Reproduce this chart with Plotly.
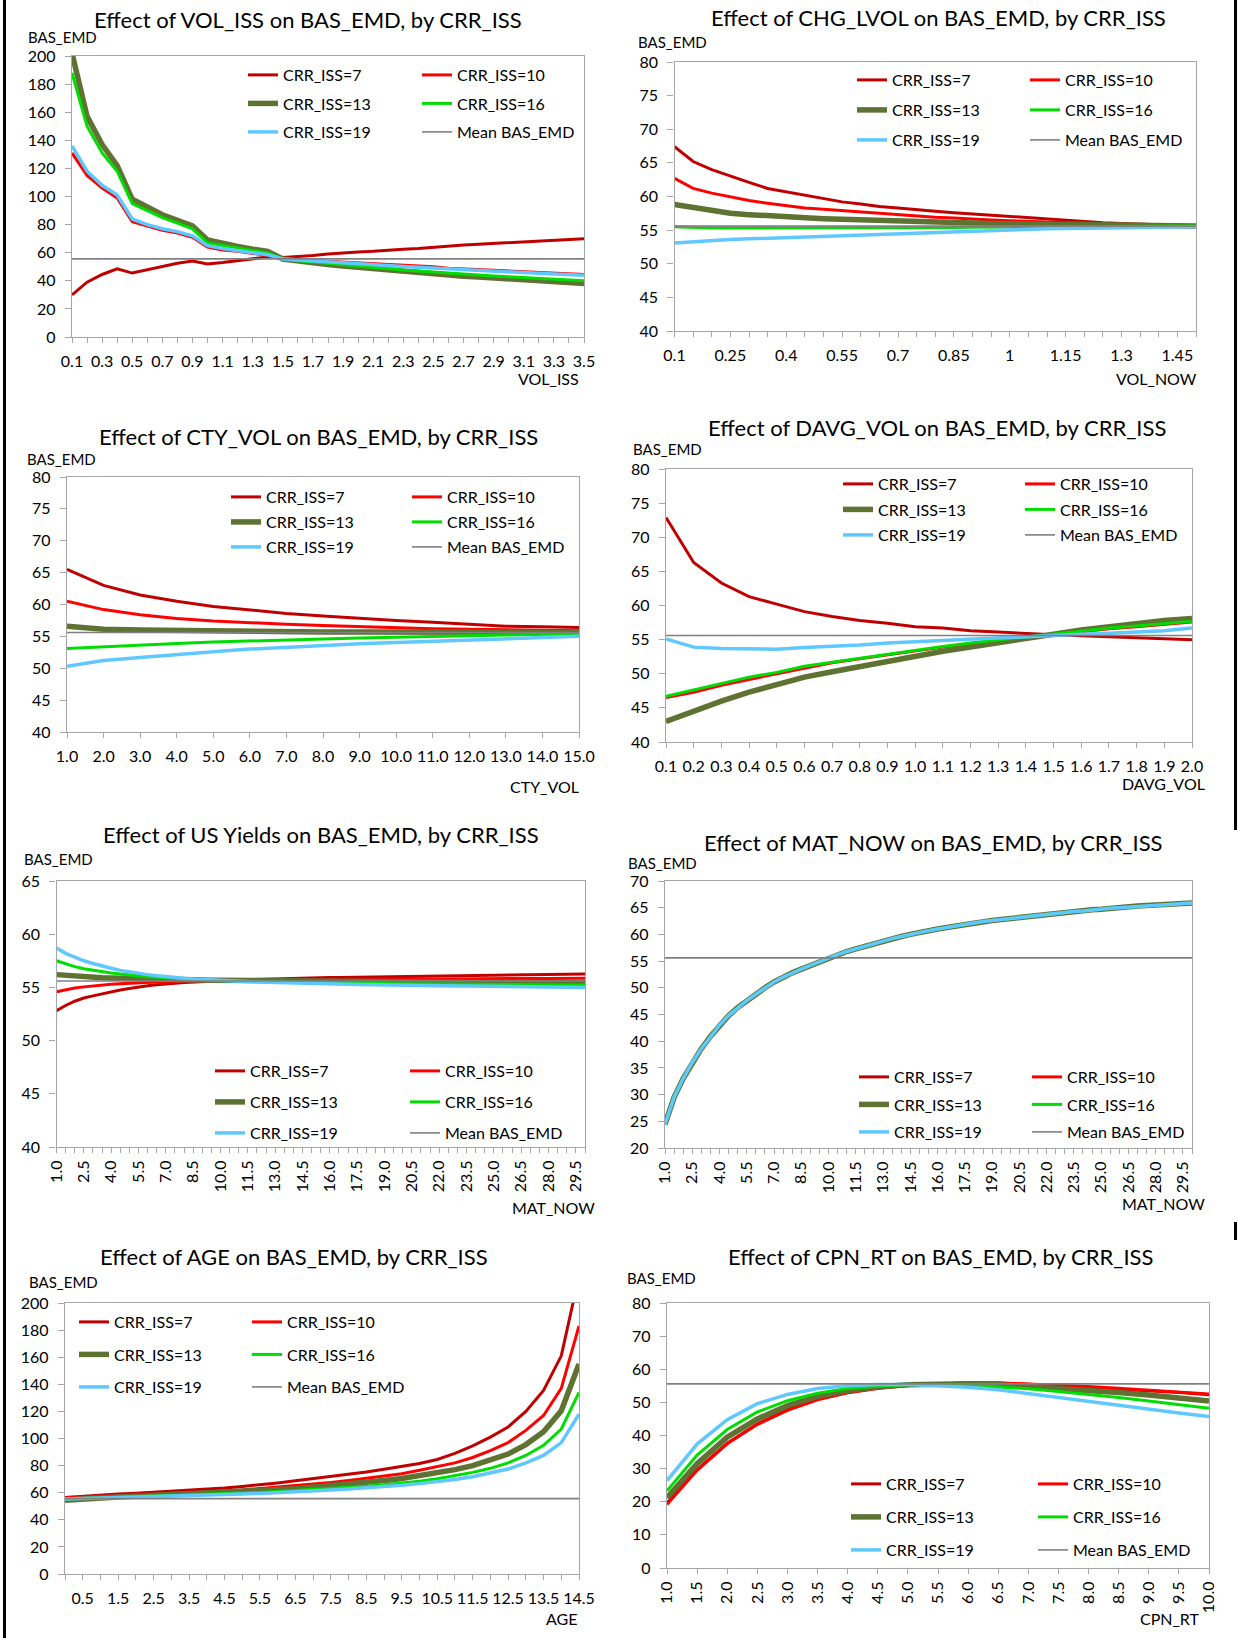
import plotly.graph_objects as go

W, H = 1238, 1638
FONT = "Lato"
AX = "#A6A6A6"
MEAN_BAS_EMD = 55.6

SERIES_NAMES = ["CRR_ISS=7", "CRR_ISS=10", "CRR_ISS=13", "CRR_ISS=16", "CRR_ISS=19"]
SERIES_COLORS = ["#C00000", "#FF0000", "#5E7232", "#00DD00", "#5FC8FF"]
SERIES_WIDTHS = [3, 3, 5.5, 3, 3.5]

# ---------------- Panel 1: VOL_ISS ----------------
VOL_ISS = [0.1, 0.2, 0.3, 0.4, 0.5, 0.6, 0.7, 0.8, 0.9, 1.0, 1.1, 1.2, 1.3, 1.4, 1.5, 1.6, 1.7, 1.8,
           1.9, 2.0, 2.1, 2.2, 2.3, 2.4, 2.5, 2.6, 2.7, 2.8, 2.9, 3.0, 3.1, 3.2, 3.3, 3.4, 3.5]
p1_crr7 = [30, 39, 44.5, 48.5, 45.5, 48, 50.5, 52.5, 54, 52, 53, 54.5, 56, 57, 56.5, 57, 58, 59, 60, 60.5,
           61, 62, 62.5, 63, 64, 65, 65.5, 66, 66.5, 67, 67.5, 68, 68.5, 69, 70]
p1_crr10 = [131, 115, 106, 99, 82, 79, 76, 74, 71, 64, 62, 61, 59.5, 58, 55.5, 55, 54.5, 54, 53, 52.5,
            52, 51.5, 51, 50.5, 50, 49, 48.5, 48, 47.5, 47, 46.5, 46, 45.5, 45, 44.5]
p1_crr13 = [202, 157, 137, 122, 98, 92, 87, 83, 79, 69, 66.5, 64.5, 62.5, 61, 55.5, 54, 53, 51.5, 50.5, 49.5,
            48.5, 47.5, 46.8, 46, 45, 44, 43.3, 42.7, 42, 41.3, 40.6, 40, 39.3, 38.6, 38]
p1_crr16 = [188, 150, 131, 118, 95, 90, 85, 81, 77, 67, 65, 63, 61.5, 60, 55.5, 54.3, 53.3, 52.2, 51.2, 50.3,
            49.4, 48.5, 47.7, 47, 46.2, 45.4, 44.7, 44, 43.4, 42.8, 42.2, 41.6, 41, 40.5, 40]
p1_crr19 = [136, 118, 108, 101, 84, 80, 77, 75, 72, 65, 63, 61.5, 60, 58.5, 55.5, 54.8, 54, 53.3, 52.5, 52,
            51.5, 50.8, 50.2, 49.6, 49, 48.4, 47.8, 47.3, 46.8, 46.3, 45.8, 45.3, 44.9, 44.5, 44]
p1_tickvals = [0.1, 0.3, 0.5, 0.7, 0.9, 1.1, 1.3, 1.5, 1.7, 1.9, 2.1, 2.3, 2.5, 2.7, 2.9, 3.1, 3.3, 3.5]
p1_ticktext = ["0.1", "0.3", "0.5", "0.7", "0.9", "1.1", "1.3", "1.5", "1.7", "1.9", "2.1", "2.3", "2.5",
               "2.7", "2.9", "3.1", "3.3", "3.5"]

# ---------------- Panel 2: CHG_LVOL (VOL_NOW) ----------------
VOL_NOW = [0.1, 0.15, 0.2, 0.25, 0.3, 0.35, 0.4, 0.45, 0.5, 0.55, 0.6, 0.65, 0.7, 0.75, 0.8, 0.85, 0.9,
           0.95, 1.0, 1.05, 1.1, 1.15, 1.2, 1.25, 1.3, 1.35, 1.4, 1.45, 1.5]
p2_crr7 = [67.4, 65.2, 64.0, 63.0, 62.1, 61.2, 60.7, 60.1, 59.6, 59.2, 58.9, 58.5, 58.3, 58.0, 57.8, 57.6,
           57.4, 57.2, 57.0, 56.8, 56.6, 56.5, 56.3, 56.1, 56.0, 55.9, 55.8, 55.7, 55.6]
p2_crr10 = [62.7, 61.2, 60.5, 59.9, 59.4, 59.0, 58.6, 58.3, 58.1, 57.9, 57.6, 57.4, 57.2, 57.0, 56.9, 56.8,
            56.6, 56.5, 56.4, 56.3, 56.2, 56.1, 56.0, 55.9, 55.8, 55.8, 55.7, 55.7, 55.6]
p2_crr13 = [58.8, 58.3, 57.9, 57.5, 57.3, 57.1, 56.9, 56.8, 56.7, 56.6, 56.5, 56.4, 56.3, 56.25, 56.2, 56.1,
            56.05, 56.0, 55.95, 55.9, 55.85, 55.8, 55.8, 55.75, 55.7, 55.7, 55.65, 55.65, 55.6]
p2_crr16 = [55.5, 55.35, 55.3, 55.3, 55.3, 55.3, 55.3, 55.3, 55.3, 55.3, 55.3, 55.32, 55.34, 55.36, 55.38,
            55.4, 55.42, 55.44, 55.46, 55.48, 55.5, 55.5, 55.52, 55.54, 55.55, 55.56, 55.57, 55.58, 55.6]
p2_crr19 = [53.1, 53.3, 53.4, 53.6, 53.7, 53.8, 53.9, 54.0, 54.1, 54.2, 54.3, 54.4, 54.5, 54.6, 54.7, 54.8,
            54.9, 55.0, 55.05, 55.1, 55.2, 55.25, 55.3, 55.35, 55.4, 55.45, 55.5, 55.5, 55.5]
p2_tickvals = [0.1, 0.25, 0.4, 0.55, 0.7, 0.85, 1.0, 1.15, 1.3, 1.45]
p2_ticktext = ["0.1", "0.25", "0.4", "0.55", "0.7", "0.85", "1", "1.15", "1.3", "1.45"]

# ---------------- Panel 3: CTY_VOL ----------------
CTY_VOL = [1, 2, 3, 4, 5, 6, 7, 8, 9, 10, 11, 12, 13, 14, 15]
p3_crr7 = [65.5, 63, 61.5, 60.5, 59.7, 59.1, 58.6, 58.2, 57.8, 57.5, 57.2, 56.9, 56.6, 56.5, 56.4]
p3_crr10 = [60.5, 59.2, 58.4, 57.8, 57.4, 57.1, 56.9, 56.7, 56.5, 56.4, 56.2, 56.1, 56.0, 55.95, 55.9]
p3_crr13 = [56.6, 56.1, 56.0, 55.9, 55.8, 55.75, 55.7, 55.7, 55.7, 55.65, 55.65, 55.6, 55.6, 55.6, 55.6]
p3_crr16 = [53.1, 53.4, 53.7, 53.9, 54.1, 54.3, 54.45, 54.6, 54.75, 54.9, 55.0, 55.1, 55.2, 55.3, 55.4]
p3_crr19 = [50.3, 51.2, 51.7, 52.2, 52.6, 53.0, 53.3, 53.6, 53.85, 54.05, 54.25, 54.45, 54.65, 54.8, 55.0]
p3_tickvals = CTY_VOL
p3_ticktext = ["1.0", "2.0", "3.0", "4.0", "5.0", "6.0", "7.0", "8.0", "9.0", "10.0", "11.0", "12.0",
               "13.0", "14.0", "15.0"]

# ---------------- Panel 4: DAVG_VOL ----------------
DAVG_VOL = [0.1, 0.2, 0.3, 0.4, 0.5, 0.6, 0.7, 0.8, 0.9, 1.0, 1.1, 1.2, 1.3, 1.4, 1.5, 1.6, 1.7, 1.8, 1.9, 2.0]
p4_crr7 = [72.9, 66.3, 63.3, 61.3, 60.2, 59.1, 58.4, 57.8, 57.4, 56.9, 56.7, 56.3, 56.1, 55.85, 55.7, 55.55,
           55.4, 55.2, 55.1, 55.0]
p4_crr10 = [46.5, 47.3, 48.3, 49.2, 50.0, 50.8, 51.6, 52.2, 52.8, 53.3, 53.9, 54.4, 54.9, 55.3, 55.7, 56.2,
            56.6, 56.9, 57.2, 57.6]
p4_crr13 = [43.0, 44.6, 46.0, 47.3, 48.4, 49.5, 50.3, 51.1, 51.8, 52.5, 53.3, 53.9, 54.6, 55.2, 55.8, 56.4,
            56.9, 57.4, 57.8, 58.1]
p4_crr16 = [46.7, 47.6, 48.5, 49.5, 50.2, 51.1, 51.7, 52.3, 52.9, 53.4, 54.0, 54.5, 55.0, 55.4, 55.8, 56.3,
            56.7, 57.0, 57.3, 57.7]
p4_crr19 = [55.1, 53.9, 53.7, 53.6, 53.6, 53.85, 54.0, 54.2, 54.5, 54.7, 54.9, 55.1, 55.3, 55.45, 55.6, 55.8,
            55.95, 56.1, 56.3, 56.7]
p4_tickvals = DAVG_VOL
p4_ticktext = ["0.1", "0.2", "0.3", "0.4", "0.5", "0.6", "0.7", "0.8", "0.9", "1.0", "1.1", "1.2", "1.3",
               "1.4", "1.5", "1.6", "1.7", "1.8", "1.9", "2.0"]

# ---------------- Panels 5 & 6: MAT_NOW ----------------
MAT_NOW = [1.0, 1.5, 2.0, 2.5, 3.0, 3.5, 4.0, 4.5, 5.0, 5.5, 6.0, 6.5, 7.0, 7.5, 8.0, 8.5, 9.0, 9.5, 10.0,
           10.5, 11.0, 11.5, 12.0, 12.5, 13.0, 13.5, 14.0, 14.5, 15.0, 15.5, 16.0, 16.5, 17.0, 17.5, 18.0,
           18.5, 19.0, 19.5, 20.0, 20.5, 21.0, 21.5, 22.0, 22.5, 23.0, 23.5, 24.0, 24.5, 25.0, 25.5, 26.0,
           26.5, 27.0, 27.5, 28.0, 28.5, 29.0, 29.5, 30.0]
p5_crr7 = [52.8, 53.3, 53.7, 54.0, 54.2, 54.4, 54.6, 54.75, 54.9, 55.05,
           55.15, 55.25, 55.35, 55.4, 55.45, 55.5, 55.55, 55.6, 55.65, 55.68,
           55.7, 55.72, 55.75, 55.77, 55.8, 55.82, 55.84, 55.86, 55.88, 55.9,
           55.92, 55.94, 55.95, 55.97, 55.98, 56.0, 56.01, 56.03, 56.04, 56.05,
           56.07, 56.08, 56.09, 56.1, 56.12, 56.13, 56.14, 56.15, 56.16, 56.17,
           56.18, 56.19, 56.2, 56.21, 56.22, 56.23, 56.24, 56.25, 56.26]
p5_crr10 = [54.6, 54.8, 54.95, 55.05, 55.15, 55.22, 55.3, 55.35, 55.4, 55.44,
            55.48, 55.5, 55.52, 55.54, 55.56, 55.58, 55.6, 55.61, 55.62, 55.63,
            55.64, 55.65, 55.66, 55.67, 55.68, 55.69, 55.7, 55.71, 55.72, 55.72,
            55.73, 55.74, 55.74, 55.75, 55.76, 55.76, 55.77, 55.77, 55.78, 55.78,
            55.79, 55.79, 55.8, 55.8, 55.81, 55.81, 55.82, 55.82, 55.82, 55.83,
            55.83, 55.83, 55.84, 55.84, 55.84, 55.85, 55.85, 55.85, 55.86]
p5_crr13 = [56.2, 56.12, 56.05, 56.0, 55.95, 55.91, 55.88, 55.85, 55.82, 55.8,
            55.78, 55.76, 55.74, 55.72, 55.71, 55.7, 55.69, 55.68, 55.67, 55.66,
            55.65, 55.64, 55.63, 55.62, 55.61, 55.6, 55.6, 55.59, 55.58, 55.58,
            55.57, 55.56, 55.56, 55.55, 55.55, 55.54, 55.53, 55.53, 55.52, 55.52,
            55.51, 55.51, 55.5, 55.5, 55.49, 55.49, 55.48, 55.48, 55.48, 55.47,
            55.47, 55.46, 55.46, 55.46, 55.45, 55.45, 55.45, 55.44, 55.44]
p5_crr16 = [57.5, 57.2, 56.95, 56.75, 56.6, 56.45, 56.35, 56.25, 56.15, 56.07,
            56.0, 55.95, 55.9, 55.85, 55.8, 55.76, 55.72, 55.69, 55.66, 55.63,
            55.6, 55.58, 55.56, 55.54, 55.52, 55.5, 55.48, 55.47, 55.45, 55.44,
            55.42, 55.41, 55.4, 55.39, 55.38, 55.37, 55.36, 55.35, 55.34, 55.33,
            55.32, 55.32, 55.31, 55.3, 55.3, 55.29, 55.28, 55.28, 55.27, 55.27,
            55.26, 55.26, 55.25, 55.25, 55.24, 55.24, 55.23, 55.23, 55.22]
p5_crr19 = [58.7, 58.2, 57.85, 57.5, 57.25, 57.0, 56.8, 56.6, 56.45, 56.3,
            56.2, 56.1, 56.0, 55.92, 55.85, 55.79, 55.74, 55.69, 55.65, 55.61,
            55.57, 55.54, 55.51, 55.48, 55.45, 55.43, 55.41, 55.39, 55.37, 55.35,
            55.33, 55.31, 55.29, 55.28, 55.26, 55.25, 55.23, 55.22, 55.21, 55.2,
            55.18, 55.17, 55.16, 55.15, 55.14, 55.13, 55.12, 55.11, 55.1, 55.09,
            55.08, 55.07, 55.06, 55.05, 55.04, 55.03, 55.02, 55.01, 55.0]
# Panel 6: all five CRR_ISS curves coincide in the picture
p6_curve = [24.4, 29.5, 33.0, 36.0, 38.6, 40.9, 43.0, 44.8, 46.3, 47.6,
            48.8, 50.0, 51.1, 52.0, 52.8, 53.5, 54.2, 54.9, 55.6, 56.2,
            56.8, 57.3, 57.8, 58.3, 58.8, 59.2, 59.6, 60.0, 60.4, 60.7,
            61.0, 61.3, 61.6, 61.9, 62.2, 62.4, 62.6, 62.8, 63.0, 63.2,
            63.4, 63.6, 63.8, 64.0, 64.1, 64.3, 64.4, 64.6, 64.7, 64.9,
            65.0, 65.1, 65.3, 65.4, 65.5, 65.6, 65.7, 65.8, 65.9]
mat_tickvals = [1.0, 2.5, 4.0, 5.5, 7.0, 8.5, 10.0, 11.5, 13.0, 14.5, 16.0, 17.5, 19.0, 20.5, 22.0, 23.5,
                25.0, 26.5, 28.0, 29.5]
mat_ticktext = ["1.0", "2.5", "4.0", "5.5", "7.0", "8.5", "10.0", "11.5", "13.0", "14.5", "16.0", "17.5",
                "19.0", "20.5", "22.0", "23.5", "25.0", "26.5", "28.0", "29.5"]

# ---------------- Panel 7: AGE ----------------
AGE = [0.0, 0.5, 1.0, 1.5, 2.0, 2.5, 3.0, 3.5, 4.0, 4.5, 5.0, 5.5, 6.0, 6.5, 7.0, 7.5, 8.0, 8.5, 9.0, 9.5,
       10.0, 10.5, 11.0, 11.5, 12.0, 12.5, 13.0, 13.5, 14.0, 14.5]
p7_crr7 = [56.5, 57.5, 58.2, 59, 59.6, 60.3, 61, 61.7, 62.5, 63.5,
           64.6, 65.8, 67.2, 68.8, 70.3, 71.8, 73.5, 75.3, 77.3, 79.5,
           81.5, 84.5, 89, 94.5, 101, 108.5, 120, 135.5, 161, 220]
p7_crr10 = [56.3, 56.8, 57.3, 57.8, 58.3, 58.8, 59.3, 60, 60.5, 61.2,
            62, 63, 64, 65, 66.3, 67.5, 69, 70.5, 72, 74,
            76.5, 79, 82, 86, 91, 97, 106, 117, 137, 183]
p7_crr13 = [54.5, 55.5, 56.2, 56.8, 57.3, 57.8, 58.3, 58.8, 59.4, 60,
            60.8, 61.5, 62.3, 63, 64, 65, 66.3, 67.5, 69, 70.5,
            72.5, 74.5, 77, 80, 84, 88.5, 95.5, 105, 120.5, 155]
p7_crr16 = [55.3, 55.7, 56.1, 56.5, 56.9, 57.3, 57.7, 58.1, 58.6, 59.1,
            59.6, 60.2, 60.8, 61.5, 62.2, 63, 63.8, 64.8, 65.8, 67,
            68.5, 70.3, 72.5, 75, 78, 82, 87.5, 95, 107, 134]
p7_crr19 = [55.4, 55.7, 56, 56.3, 56.6, 57, 57.3, 57.7, 58.1, 58.5,
            59, 59.5, 60, 60.6, 61.3, 62, 62.8, 63.6, 64.5, 65.5,
            66.7, 68, 69.8, 71.8, 74.5, 77.5, 82, 87.5, 97, 118]
p7_tickvals = [0.5, 1.5, 2.5, 3.5, 4.5, 5.5, 6.5, 7.5, 8.5, 9.5, 10.5, 11.5, 12.5, 13.5, 14.5]
p7_ticktext = ["0.5", "1.5", "2.5", "3.5", "4.5", "5.5", "6.5", "7.5", "8.5", "9.5", "10.5", "11.5",
               "12.5", "13.5", "14.5"]

# ---------------- Panel 8: CPN_RT ----------------
CPN_RT = [1.0, 1.5, 2.0, 2.5, 3.0, 3.5, 4.0, 4.5, 5.0, 5.5, 6.0, 6.5, 7.0, 7.5, 8.0, 8.5, 9.0, 9.5, 10.0]
p8_crr7 = [19.6, 29.7, 37.7, 43.5, 47.8, 51.0, 53.0, 54.3, 55.1, 55.6, 55.8, 55.8, 55.5, 55.0, 54.7, 54.1,
           53.5, 53.0, 52.3]
p8_crr10 = [19.2, 29.5, 37.5, 43.3, 47.6, 50.8, 52.9, 54.2, 55.1, 55.6, 55.9, 55.9, 55.6, 55.2, 54.8, 54.3,
            53.7, 53.1, 52.5]
p8_crr13 = [21.2, 31.5, 39.5, 45.0, 49.0, 51.8, 53.6, 54.7, 55.3, 55.6, 55.6, 55.3, 54.8, 54.3, 53.7, 53.0,
            52.2, 51.3, 50.4]
p8_crr16 = [23.3, 34.1, 41.8, 47.1, 50.5, 52.8, 54.2, 54.9, 55.3, 55.4, 55.2, 54.7, 54.1, 53.3, 52.5, 51.5,
            50.4, 49.3, 48.2]
p8_crr19 = [26.4, 37.4, 44.8, 49.6, 52.4, 54.2, 55.0, 55.4, 55.4, 55.1, 54.6, 53.8, 52.6, 51.5, 50.4, 49.2,
            48.0, 46.8, 45.7]
p8_tickvals = CPN_RT
p8_ticktext = ["1.0", "1.5", "2.0", "2.5", "3.0", "3.5", "4.0", "4.5", "5.0", "5.5", "6.0", "6.5", "7.0",
               "7.5", "8.0", "8.5", "9.0", "9.5", "10.0"]

TITLES = ["Effect of VOL_ISS on BAS_EMD, by CRR_ISS", "Effect of CHG_LVOL on BAS_EMD, by CRR_ISS",
          "Effect of CTY_VOL on BAS_EMD, by CRR_ISS", "Effect of DAVG_VOL on BAS_EMD, by CRR_ISS",
          "Effect of US Yields on BAS_EMD, by CRR_ISS", "Effect of MAT_NOW on BAS_EMD, by CRR_ISS",
          "Effect of AGE on BAS_EMD, by CRR_ISS", "Effect of CPN_RT on BAS_EMD, by CRR_ISS"]
XLABELS = ["VOL_ISS", "VOL_NOW", "CTY_VOL", "DAVG_VOL", "MAT_NOW", "MAT_NOW", "AGE", "CPN_RT"]
YLABEL = "BAS_EMD"

panels = [
    dict(cats=VOL_ISS, ys=[p1_crr7, p1_crr10, p1_crr13, p1_crr16, p1_crr19], yr=(0, 200), dy=20,
         tv=p1_tickvals, tt=p1_ticktext, ang=0,
         box=(72, 584, 56, 337), title=(308, 20), ylab=(26, 37), xlab=(581, 378),
         leg=(248, 422, 75, 28.5)),
    dict(cats=VOL_NOW, ys=[p2_crr7, p2_crr10, p2_crr13, p2_crr16, p2_crr19], yr=(40, 80), dy=5,
         tv=p2_tickvals, tt=p2_ticktext, ang=0,
         box=(674.5, 1196, 62, 331), title=(938, 18), ylab=(636, 42), xlab=(1199, 378),
         leg=(857, 1030, 80, 30)),
    dict(cats=CTY_VOL, ys=[p3_crr7, p3_crr10, p3_crr13, p3_crr16, p3_crr19], yr=(40, 80), dy=5,
         tv=p3_tickvals, tt=p3_ticktext, ang=0,
         box=(67, 579, 477, 732), title=(318, 437), ylab=(25, 459), xlab=(581, 786),
         leg=(231, 412, 497, 25)),
    dict(cats=DAVG_VOL, ys=[p4_crr7, p4_crr10, p4_crr13, p4_crr16, p4_crr19], yr=(40, 80), dy=5,
         tv=p4_tickvals, tt=p4_ticktext, ang=0,
         box=(666, 1192, 469, 742), title=(937, 428), ylab=(631, 449), xlab=(1207, 783),
         leg=(843, 1025, 484, 25.5)),
    dict(cats=MAT_NOW, ys=[p5_crr7, p5_crr10, p5_crr13, p5_crr16, p5_crr19], yr=(40, 65), dy=5,
         tv=mat_tickvals, tt=mat_ticktext, ang=-90,
         box=(56.5, 585, 881, 1147), title=(321, 834), ylab=(22, 859), xlab=(597, 1207),
         leg=(215, 410, 1071, 31)),
    dict(cats=MAT_NOW, ys=[p6_curve, p6_curve, p6_curve, p6_curve, p6_curve], yr=(20, 70), dy=5,
         tv=mat_tickvals, tt=mat_ticktext, ang=-90,
         box=(665, 1192, 881, 1148), title=(933, 843), ylab=(626, 863), xlab=(1207, 1203),
         leg=(859, 1032, 1077, 27.5)),
    dict(cats=AGE, ys=[p7_crr7, p7_crr10, p7_crr13, p7_crr16, p7_crr19], yr=(0, 200), dy=20,
         tv=p7_tickvals, tt=p7_ticktext, ang=0,
         box=(65, 579, 1303, 1574), title=(294, 1256), ylab=(27, 1282), xlab=(579, 1618),
         leg=(79, 252, 1322, 32.5)),
    dict(cats=CPN_RT, ys=[p8_crr7, p8_crr10, p8_crr13, p8_crr16, p8_crr19], yr=(0, 80), dy=10,
         tv=p8_tickvals, tt=p8_ticktext, ang=-90,
         box=(667, 1209, 1303, 1568), title=(940, 1256), ylab=(625, 1278), xlab=(1202, 1618),
         leg=(851, 1038, 1484, 33)),
]


def fx(p):
    return p / W


def fy(p):
    return 1 - p / H


fig = go.Figure()
annotations = []
layout_extra = {}
ITEM_H = 23.8

for i, P in enumerate(panels, start=1):
    xa = "x" if i == 1 else f"x{i}"
    ya = "y" if i == 1 else f"y{i}"
    legA = "legend" if i == 1 else f"legend{2 * i - 1}"
    legB = f"legend{2 * i}"
    cats = P["cats"]
    for k, (name, color, width, yvals) in enumerate(zip(SERIES_NAMES, SERIES_COLORS, SERIES_WIDTHS, P["ys"])):
        fig.add_trace(go.Scatter(
            x=cats, y=yvals, mode="lines", name=name, xaxis=xa, yaxis=ya,
            line=dict(color=color, width=width),
            legend=legA if k % 2 == 0 else legB, legendgroup=f"p{i}_{k}",
            hoverinfo="skip"))
    fig.add_trace(go.Scatter(
        x=[cats[0], cats[-1]], y=[MEAN_BAS_EMD, MEAN_BAS_EMD], mode="lines", name="Mean BAS_EMD",
        xaxis=xa, yaxis=ya, line=dict(color="#808080", width=1.6),
        legend=legB, legendgroup=f"p{i}_mean", hoverinfo="skip"))

    x0, x1, y0, y1 = P["box"]
    rotated = P["ang"] != 0
    xkey = "xaxis" if i == 1 else f"xaxis{i}"
    ykey = "yaxis" if i == 1 else f"yaxis{i}"
    layout_extra[xkey] = dict(
        domain=[fx(x0), fx(x1)], range=[cats[0], cats[-1]], anchor=ya, automargin=False,
        tickmode="array", tickvals=P["tv"], ticktext=P["tt"], tickangle=P["ang"],
        ticks="outside", ticklen=5, tickwidth=1, tickcolor=AX,
        showline=True, linecolor=AX, linewidth=1.3, mirror=True,
        showgrid=False, zeroline=False,
        ticklabelstandoff=1 if rotated else 5,
        tickfont=dict(family=FONT, size=16, color="black"),
        minor=dict(tickmode="array", tickvals=cats, ticks="outside", ticklen=5, tickwidth=1,
                   tickcolor=AX, showgrid=False))
    layout_extra[ykey] = dict(
        domain=[fy(y1), fy(y0)], range=list(P["yr"]), anchor=xa, automargin=False,
        tickmode="linear", tick0=P["yr"][0], dtick=P["dy"],
        ticks="outside", ticklen=6, tickwidth=1, tickcolor=AX,
        showline=True, linecolor=AX, linewidth=1.3, mirror=True,
        showgrid=False, zeroline=False, ticklabelstandoff=6,
        tickfont=dict(family=FONT, size=16, color="black"))

    tx, ty = P["title"]
    annotations.append(dict(text=TITLES[i - 1], x=fx(tx), y=fy(ty), xref="paper", yref="paper",
                            xanchor="center", yanchor="middle", showarrow=False,
                            font=dict(family=FONT, size=22, color="black")))
    lx, ly = P["ylab"]
    annotations.append(dict(text=YLABEL, x=fx(lx), y=fy(ly), xref="paper", yref="paper",
                            xanchor="left", yanchor="middle", showarrow=False,
                            font=dict(family=FONT, size=15, color="black")))
    bx, by = P["xlab"]
    annotations.append(dict(text=XLABELS[i - 1], x=fx(bx), y=fy(by), xref="paper", yref="paper",
                            xanchor="right", yanchor="middle", showarrow=False,
                            font=dict(family=FONT, size=16, color="black")))

    cA, cB, row1, gap = P["leg"]
    for key, cx in ((legA, cA), (legB, cB)):
        layout_extra[key] = dict(
            x=fx(cx - 5), xanchor="left", y=fy(row1 - 17), yanchor="top",
            orientation="v", traceorder="grouped", tracegroupgap=max(gap - ITEM_H, 0),
            bgcolor="rgba(0,0,0,0)", borderwidth=0, itemwidth=30,
            font=dict(family=FONT, size=16, color="black"))

shapes = [
    dict(type="line", xref="paper", yref="paper", x0=fx(4.5), x1=fx(4.5), y0=0, y1=1,
         line=dict(color="black", width=3)),
    dict(type="line", xref="paper", yref="paper", x0=fx(1235.5), x1=fx(1235.5), y0=fy(830), y1=1,
         line=dict(color="black", width=3)),
    dict(type="line", xref="paper", yref="paper", x0=fx(1235.5), x1=fx(1235.5), y0=fy(1240), y1=fy(1222),
         line=dict(color="black", width=3)),
]

fig.update_layout(
    width=W, height=H, autosize=False,
    margin=dict(l=0, r=0, t=0, b=0, pad=0, autoexpand=False),
    paper_bgcolor="white", plot_bgcolor="white",
    font=dict(family=FONT, size=16, color="black"),
    annotations=annotations, shapes=shapes,
    **layout_extra)

fig.write_html("out.html", config={"displayModeBar": False},
               post_script="document.body.style.margin='0px'; document.body.style.overflow='hidden';")
